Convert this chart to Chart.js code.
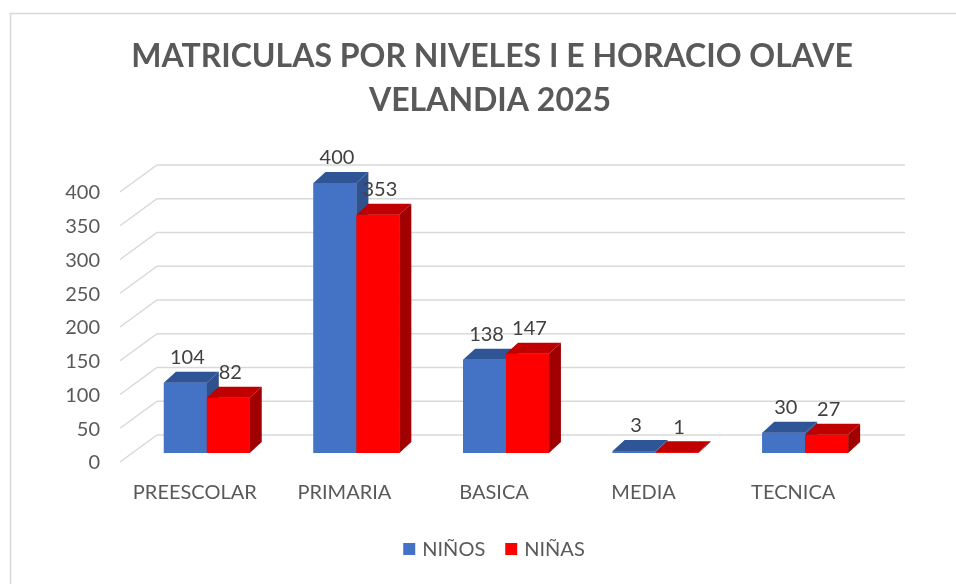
<!DOCTYPE html>
<html>
<head>
<meta charset="utf-8">
<script src="https://cdn.jsdelivr.net/npm/chart.js@4.4.1/dist/chart.umd.min.js"></script>
<style>
  html, body { margin: 0; padding: 0; background: #fff; }
</style>
</head>
<body>
<canvas id="chart" width="956" height="584"></canvas>
<script>
// data
var categories = ["PREESCOLAR", "PRIMARIA", "BASICA", "MEDIA", "TECNICA"];
var ninos = [104, 400, 138, 3, 30];
var ninas = [82, 353, 147, 1, 27];
var yTicks = [0, 50, 100, 150, 200, 250, 300, 350, 400];
var titleLines = ["MATRICULAS POR NIVELES I E HORACIO OLAVE", "VELANDIA 2025"];
var seriesNames = ["NIÑOS", "NIÑAS"];

// colours: front, top, side
var shades = [
    ["#4472C4", "#2F5597", "#2F528F"],
    ["#FF0000", "#C00000", "#A00000"]
];

var FONT = "Lato, 'Open Sans', sans-serif";
var TEXT = "#595959";
var GRID = "#D9D9D9";
// 3d offsets
var barDx = 12, barDy = 11;     // depth of a bar
var backDx = 25, backDy = 18;   // back wall from bar plane
var frontDx = 12, frontDy = 9;  // front edge from bar plane
var wallRight = 905;

var threeD = {
    id: "threeD",
    beforeDraw: function (chart) {
        var ctx = chart.ctx;
        ctx.save();
        ctx.fillStyle = "#fff";
        ctx.fillRect(0, 0, chart.width, chart.height);
        ctx.strokeStyle = GRID;
        ctx.lineWidth = 1.5;
        ctx.strokeRect(10.5, 13.5, 980, 620);

        // title
        ctx.fillStyle = TEXT;
        ctx.font = "bold 32px " + FONT;
        ctx.textAlign = "center";
        ctx.textBaseline = "middle";
        ctx.fillText(titleLines[0], 492, 57);
        ctx.fillText(titleLines[1], 490, 101);
        ctx.restore();
    },
    beforeDatasetsDraw: function (chart) {
        var ctx = chart.ctx;
        var ys = chart.scales.y, xs = chart.scales.x;
        var left = chart.chartArea.left;
        ctx.save();
        ctx.strokeStyle = GRID;
        ctx.lineWidth = 1.5;
        ctx.fillStyle = TEXT;
        ctx.font = "20px " + FONT;
        ctx.textAlign = "right";
        ctx.textBaseline = "middle";
        yTicks.forEach(function (v) {
            var y = ys.getPixelForValue(v);
            ctx.beginPath();
            ctx.moveTo(left - frontDx, y + frontDy);
            ctx.lineTo(left + backDx, y - backDy);
            ctx.lineTo(wallRight, y - backDy);
            ctx.stroke();
            ctx.fillText(String(v), 100, y + frontDy + 1);
        });
        ctx.textAlign = "center";
        categories.forEach(function (c, i) {
            ctx.fillText(c, xs.getPixelForValue(i) - frontDx, 493);
        });

        // legend
        var sq = 12, gap = 7, between = 20;
        var widths = seriesNames.map(function (s) { return ctx.measureText(s).width; });
        var total = sq * 2 + gap * 2 + widths[0] + widths[1] + between;
        var x = 494 - total / 2;
        ctx.textAlign = "left";
        seriesNames.forEach(function (s, i) {
            ctx.fillStyle = shades[i][0];
            ctx.fillRect(x, 543, sq, sq);
            ctx.fillStyle = TEXT;
            ctx.fillText(s, x + sq + gap, 550);
            x += sq + gap + widths[i] + between;
        });
        ctx.restore();
    },
    afterDatasetsDraw: function (chart) {
        var ctx = chart.ctx;
        var metas = chart.data.datasets.map(function (ds, di) { return chart.getDatasetMeta(di); });
        ctx.save();
        // per category, left bar first so the right bar's front hides its side
        categories.forEach(function (c, i) {
            metas.forEach(function (meta, di) {
                var sh = shades[di];
                var p = meta.data[i].getProps(["x", "y", "base", "width"], true);
                var l = p.x - p.width / 2, r = p.x + p.width / 2;
                ctx.fillStyle = sh[0];
                ctx.fillRect(l, p.y, r - l, p.base - p.y);
                ctx.fillStyle = sh[1];
                ctx.beginPath();
                ctx.moveTo(l, p.y);
                ctx.lineTo(l + barDx, p.y - barDy);
                ctx.lineTo(r + barDx, p.y - barDy);
                ctx.lineTo(r, p.y);
                ctx.closePath();
                ctx.fill();
                ctx.fillStyle = sh[2];
                ctx.beginPath();
                ctx.moveTo(r, p.y);
                ctx.lineTo(r + barDx, p.y - barDy);
                ctx.lineTo(r + barDx, p.base - barDy);
                ctx.lineTo(r, p.base);
                ctx.closePath();
                ctx.fill();
            });
        });

        ctx.fillStyle = "#404040";
        ctx.font = "20px " + FONT;
        ctx.textAlign = "center";
        ctx.textBaseline = "middle";
        chart.data.datasets.forEach(function (ds, di) {
            metas[di].data.forEach(function (bar, i) {
                ctx.fillText(String(ds.data[i]), bar.x + 2, bar.y - 25);
            });
        });
        ctx.restore();
    }
};

new Chart(document.getElementById("chart").getContext("2d"), {
    type: "bar",
    data: {
        labels: categories,
        datasets: [
            {
                label: seriesNames[0],
                data: ninos,
                backgroundColor: shades[0][0],
                borderWidth: 0,
                clip: false
            },
            {
                label: seriesNames[1],
                data: ninas,
                backgroundColor: shades[1][0],
                borderWidth: 0,
                clip: false
            }
        ]
    },
    options: {
        responsive: false,
        animation: false,
        events: [],
        layout: {
            padding: { left: 132, right: 76, top: 183, bottom: 131 }
        },
        datasets: {
            bar: { categoryPercentage: 0.574, barPercentage: 1 }
        },
        scales: {
            x: { display: false },
            y: { display: false, min: 0, max: 400 }
        },
        plugins: {
            legend: { display: false },
            title: { display: false },
            tooltip: { enabled: false }
        }
    },
    plugins: [threeD]
});
</script>
</body>
</html>
